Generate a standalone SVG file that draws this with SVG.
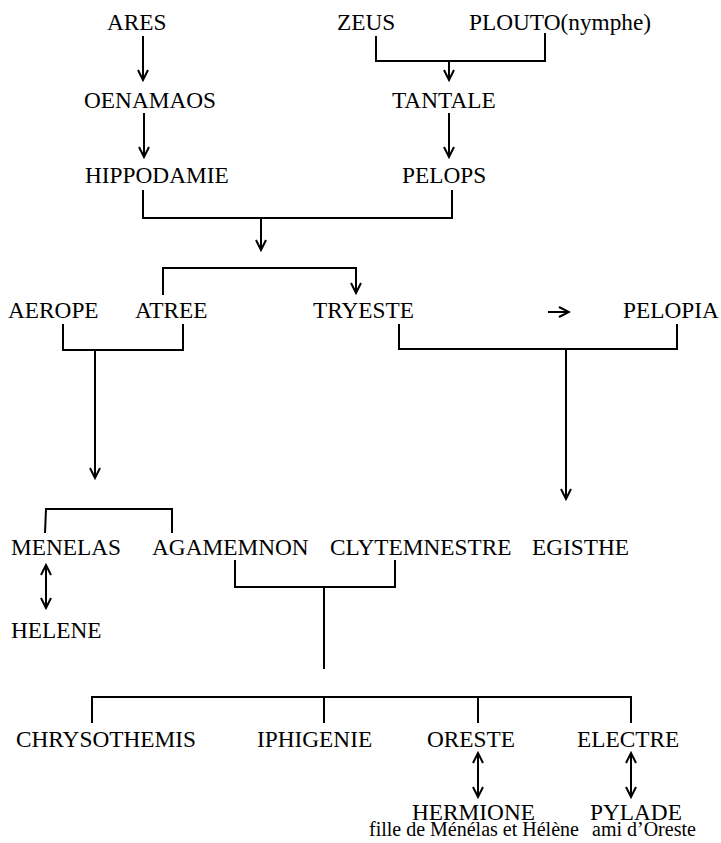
<svg xmlns="http://www.w3.org/2000/svg" width="721" height="843" viewBox="0 0 721 843">
<style>
text{font-family:"Liberation Serif","Times New Roman",serif;font-size:23.3px;fill:#000}
text.small{font-size:20px}
.c path,.c line{fill:none;stroke:#000;stroke-width:2}
.a{marker-end:url(#v)}
.d{marker-start:url(#v);marker-end:url(#v)}
</style>
<defs>
<marker id="v" viewBox="-12 -7 14 14" refX="0" refY="0" markerWidth="14" markerHeight="14" orient="auto-start-reverse" markerUnits="userSpaceOnUse">
<path d="M-10,-5 L0,0 L-10,5" fill="none" stroke="#000" stroke-width="2"/>
</marker>
</defs>
<rect width="721" height="843" fill="#fff"/>
<g class="c" id="connectors">
<line class="a" x1="143" y1="36" x2="143" y2="80"/>
<path d="M376,36 V61 H545 V33"/>
<line class="a" x1="449" y1="61" x2="449" y2="80"/>
<line class="a" x1="144" y1="113" x2="144" y2="157"/>
<line class="a" x1="449" y1="113" x2="449" y2="157"/>
<path d="M143,190 V218 H452 V190"/>
<line class="a" x1="261" y1="218" x2="261" y2="250"/>
<path class="a" d="M163,295 V268 H356 V293"/>
<path d="M63,324 V350 H183 V324"/>
<line class="a" x1="95" y1="350" x2="95" y2="478"/>
<line class="a" x1="548" y1="312" x2="569" y2="312"/>
<path d="M399,324 V349 H677 V324"/>
<line class="a" x1="566" y1="349" x2="566" y2="499"/>
<path d="M45,533 L46,509 H172 V533"/>
<line class="d" x1="46" y1="565" x2="46" y2="608"/>
<path d="M235,560 V587 H395 V560"/>
<line x1="324" y1="587" x2="324" y2="669"/>
<path d="M92,723 V697 H631 V723"/>
<line x1="324" y1="697" x2="324" y2="723"/>
<line x1="478" y1="697" x2="478" y2="723"/>
<line class="d" x1="478" y1="753" x2="478" y2="797"/>
<line class="d" x1="631" y1="753" x2="631" y2="797"/>
</g>
<g id="ares"><text x="107" y="30">ARES</text></g>
<g id="zeus"><text x="337" y="30">ZEUS</text></g>
<g id="plouto"><text x="469" y="30">PLOUTO(nymphe)</text></g>
<g id="oenamaos"><text x="84" y="108">OENAMAOS</text></g>
<g id="tantale"><text x="392" y="108">TANTALE</text></g>
<g id="hippodamie"><text x="85" y="183">HIPPODAMIE</text></g>
<g id="pelops"><text x="402" y="183">PELOPS</text></g>
<g id="aerope"><text x="8" y="318">AEROPE</text></g>
<g id="atree"><text x="135" y="318">ATREE</text></g>
<g id="tryeste"><text x="313" y="318">TRYESTE</text></g>
<g id="pelopia"><text x="623" y="318">PELOPIA</text></g>
<g id="menelas"><text x="11" y="555">MENELAS</text></g>
<g id="agamemnon"><text x="152" y="555">AGAMEMNON</text></g>
<g id="clytemnestre"><text x="330" y="555">CLYTEMNESTRE</text></g>
<g id="egisthe"><text x="532" y="555">EGISTHE</text></g>
<g id="helene"><text x="11" y="638">HELENE</text></g>
<g id="chrysothemis"><text x="16" y="747">CHRYSOTHEMIS</text></g>
<g id="iphigenie"><text x="257" y="747">IPHIGENIE</text></g>
<g id="oreste"><text x="427" y="747">ORESTE</text></g>
<g id="electre"><text x="577" y="747">ELECTRE</text></g>
<g id="hermione"><text x="412" y="820">HERMIONE</text><text class="small" x="369" y="836">fille de Ménélas et Hélène</text></g>
<g id="pylade"><text x="590" y="820">PYLADE</text><text class="small" x="592" y="836">ami d’Oreste</text></g>
</svg>
